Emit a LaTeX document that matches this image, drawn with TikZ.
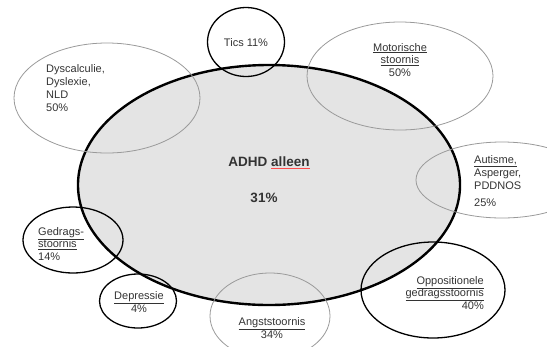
\documentclass[tikz,border=0pt]{standalone}
\usepackage{fontspec}
\setmainfont{Liberation Sans}
\usetikzlibrary{shapes.geometric}

\definecolor{vlak}{HTML}{E4E4E4}
\definecolor{rand}{HTML}{9A9A9A}
\definecolor{tekst}{HTML}{333333}

\newcommand{\rood}[1]{\textcolor{red!70}{\underline{\textcolor{tekst}{#1}}}}
\newcommand{\grijs}[1]{\underline{#1}}

\tikzset{
	ovaal/.style={ellipse, inner sep=0pt, fill=none},
	dun/.style={ovaal, draw=rand, line width=0.8pt},
	dik/.style={ovaal, draw=black, line width=1.3pt},
	label/.style={font=\fontsize{11bp}{12.8bp}\selectfont, text=tekst, inner sep=0pt}
}

\begin{document}
\begin{tikzpicture}[x=1bp,y=-1bp]

\useasboundingbox (0,0) rectangle (547,346);
\clip (0,0) rectangle (547,346);

% hoofdgroep
\node[ovaal, draw=black, fill=vlak, line width=2.4pt, minimum width=382bp, minimum height=240bp] (adhd) at (269,185) {};

% comorbiditeit
\node[dik, minimum width=77bp, minimum height=69bp] (tics) at (246,42) {};
\node[dun, minimum width=186bp, minimum height=110bp] (leer) at (107,98) {};
\node[dun, minimum width=186bp, minimum height=108bp] (motor) at (400,76) {};
\node[dun, minimum width=172bp, minimum height=76bp] (autisme) at (502,180) {};
\node[dik, minimum width=144bp, minimum height=96bp] (odd) at (433,290) {};
\node[dun, minimum width=120bp, minimum height=86bp] (angst) at (270,316) {};
\node[dik, minimum width=77bp, minimum height=54bp] (depressie) at (138,301) {};
\node[dik, minimum width=100bp, minimum height=66bp] (gedrag) at (73,240) {};

% teksten
\node[label, font=\bfseries\fontsize{13.5bp}{16bp}\selectfont] (adhdtekst) at (269,163) {ADHD \rood{alleen}};
\node[label, font=\bfseries\fontsize{13.5bp}{16bp}\selectfont] (adhdpct) at (264,198) {31\%};
\node[label] (ticstekst) at (246,43) {Tics 11\%};
\node[label, align=left, anchor=west] (leertekst) at (46,88) {Dyscalculie,\\Dyslexie,\\NLD\\50\%};
\node[label, align=center] (motortekst) at (400,60) {\grijs{Motorische}\\\grijs{stoornis}\\50\%};
\node[label, align=left, anchor=west] (autismetekst) at (474,181) {\grijs{Autisme,}\\Asperger,\\PDDNOS\\[4bp]25\%};
\node[label, align=right, anchor=east] (oddtekst) at (484,293) {\grijs{Oppositionele}\\\grijs{gedragsstoornis}\\40\%};
\node[label, align=center] (angsttekst) at (272,328) {\grijs{Angststoornis}\\34\%};
\node[label, align=center] (depressietekst) at (139,302) {\grijs{Depressie}\\4\%};
\node[label, align=left, anchor=west] (gedragtekst) at (38,244) {\grijs{Gedrags-}\\\grijs{stoornis}\\14\%};

\end{tikzpicture}
\end{document}
